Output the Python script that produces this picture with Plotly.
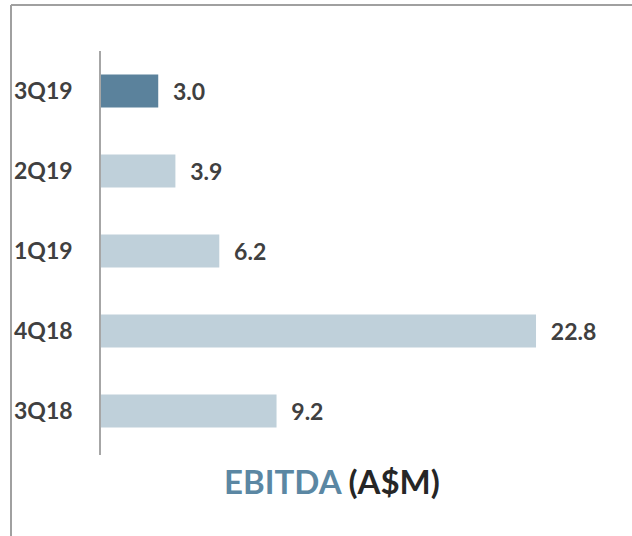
import plotly.graph_objects as go

quarters = ["3Q19", "2Q19", "1Q19", "4Q18", "3Q18"]
ebitda = [3.0, 3.9, 6.2, 22.8, 9.2]
bar_colors = ["#5b829c", "#bfd0da", "#bfd0da", "#bfd0da", "#bfd0da"]

W, H = 632, 536
L, R, T, B = 101, 54, 51, 81
pw, ph = W - L - R, H - T - B

def px_x(x):
    return (x - L) / pw

def px_y(y):
    return (H - B - y) / ph

fig = go.Figure()

fig.add_trace(go.Bar(
    x = ebitda,
    y = quarters,
    orientation = "h",
    width = 0.41,
    marker = dict(color = bar_colors, line = dict(width = 0)),
    text = ["  <b>" + format(v, ".1f") + "</b>" for v in ebitda],
    textposition = "outside",
    cliponaxis = False,
    textfont = dict(family = "Lato", size = 23, color = "#404040"),
    showlegend = False
))

fig.update_layout(
    width = W,
    height = H,
    margin = dict(l = L, r = R, t = T, b = B),
    plot_bgcolor = "white",
    paper_bgcolor = "white",
    font = dict(family = "Lato", color = "#404040")
)

fig.update_xaxes(
    range = [0, 25],
    showticklabels = False,
    showgrid = False,
    zeroline = False,
    showline = False
)

fig.update_yaxes(
    type = "category",
    categoryorder = "array",
    categoryarray = quarters,
    tickvals = quarters,
    ticktext = ["<b>" + q + "</b>" for q in quarters],
    range = [4.55, -0.5],
    showline = True,
    linecolor = "#a6a6a6",
    linewidth = 1.5,
    showgrid = False,
    ticks = "",
    ticklabelstandoff = 22,
    tickfont = dict(family = "Lato", size = 23, color = "#404040")
)

# title under the chart
fig.add_annotation(
    text = "<b><span style='color:#5b87a3'>EBITDA</span> (A$M)</b>",
    x = px_x(332), y = px_y(503),
    xref = "paper", yref = "paper",
    showarrow = False,
    font = dict(family = "Lato", size = 33, color = "#262626")
)

# frame lines (left and top)
fig.add_shape(type = "line", xref = "paper", yref = "paper",
              x0 = px_x(11), x1 = px_x(11), y0 = px_y(545), y1 = px_y(5),
              line = dict(color = "#a0a0a0", width = 2))
fig.add_shape(type = "line", xref = "paper", yref = "paper",
              x0 = px_x(11), x1 = px_x(645), y0 = px_y(5), y1 = px_y(5),
              line = dict(color = "#a0a0a0", width = 2))

fig.write_html("out.html", config = dict(displayModeBar = False),
               post_script = "document.body.style.margin = '0';")
